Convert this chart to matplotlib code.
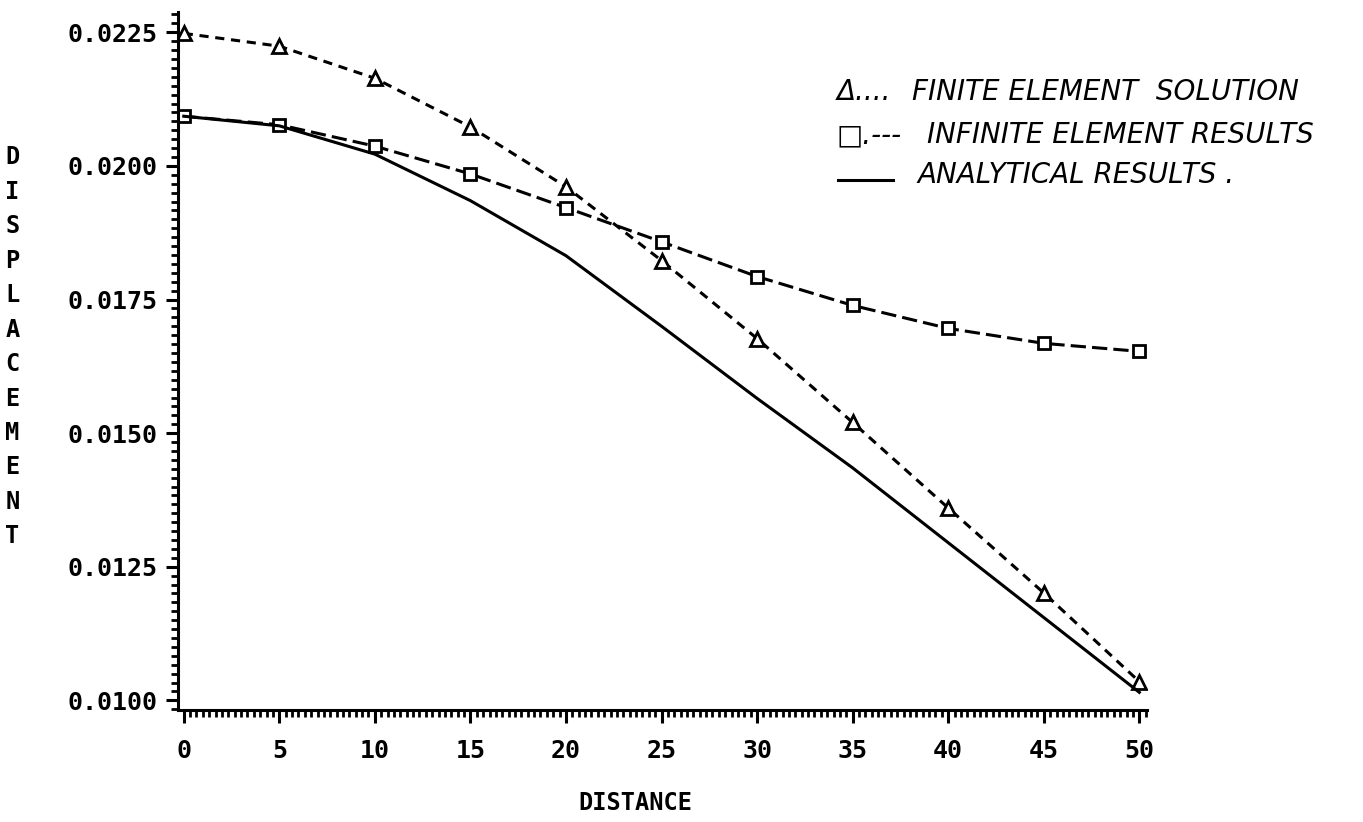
import matplotlib
matplotlib.use("Agg")
import matplotlib.pyplot as plt
from matplotlib.lines import Line2D
from matplotlib.ticker import AutoMinorLocator, FormatStrFormatter

# --- Werte ---
distance = [0, 5, 10, 15, 20, 25, 30, 35, 40, 45, 50]
finite_element = [0.02248, 0.02224, 0.02164, 0.02073, 0.01961, 0.01823,
                  0.01677, 0.01520, 0.01360, 0.01201, 0.01035]
infinite_element = [0.02093, 0.02077, 0.02037, 0.01985, 0.01922, 0.01858,
                    0.01793, 0.01739, 0.01696, 0.01668, 0.01653]
analytical = [0.02093, 0.02075, 0.02022, 0.01935, 0.01832, 0.01700,
              0.01565, 0.01435, 0.01295, 0.01155, 0.01015]

x_ticks = [0, 5, 10, 15, 20, 25, 30, 35, 40, 45, 50]
y_ticks = [0.0100, 0.0125, 0.0150, 0.0175, 0.0200, 0.0225]

legend_labels = ["FINITE ELEMENT  SOLUTION",
                 "INFINITE ELEMENT RESULTS",
                 "ANALYTICAL RESULTS ."]

mono = "DejaVu Sans Mono"

fig = plt.figure(figsize=(13.63, 8.22), dpi=100)
ax = fig.add_axes([0.1306, 0.1363, 0.7109, 0.8491])

ax.plot(distance, finite_element, color="black", lw=2.2,
        linestyle=(0, (3.0, 2.2)), marker="^", markersize=10,
        markerfacecolor="white", markeredgecolor="black", markeredgewidth=2)
ax.plot(distance, infinite_element, color="black", lw=2.2,
        linestyle=(0, (5.0, 2.0)), marker="s", markersize=9,
        markerfacecolor="white", markeredgecolor="black", markeredgewidth=2)
ax.plot(distance, analytical, color="black", lw=2.2, linestyle="-")

ax.set_xlim(-0.3, 50.4)
ax.set_ylim(0.00982, 0.02288)

ax.spines["top"].set_visible(False)
ax.spines["right"].set_visible(False)
for side in ("left", "bottom"):
    ax.spines[side].set_linewidth(2.2)

ax.set_xticks(x_ticks)
ax.set_yticks(y_ticks)
ax.xaxis.set_minor_locator(AutoMinorLocator(15))
ax.yaxis.set_minor_locator(AutoMinorLocator(15))
ax.yaxis.set_major_formatter(FormatStrFormatter("%.4f"))

ax.tick_params(which="major", direction="out", length=9, width=2.2,
               pad=6, labelsize=18)
ax.tick_params(which="minor", direction="out", length=5, width=2)
ax.tick_params(axis="x", which="major", pad=12)
for lab in ax.get_xticklabels() + ax.get_yticklabels():
    lab.set_fontfamily(mono)
    lab.set_fontweight("bold")

# Achsenbeschriftungen
fig.text(0.466, 0.008, "DISTANCE", family=mono, weight="bold", fontsize=17,
         ha="center", va="bottom")
fig.text(0.009, 0.578, "\n".join("DISPLACEMENT"), family=mono, weight="bold",
         fontsize=17, ha="center", va="center", linespacing=1.55)

# Legende oben rechts
leg_kw = dict(fontsize=20, style="italic", va="center", ha="left")
fig.text(0.614, 1 - 92 / 822, "\u0394....", **leg_kw)
fig.text(0.669, 1 - 92 / 822, legend_labels[0], **leg_kw)
fig.text(0.614, 1 - 135 / 822, "\u25a1.---", **leg_kw)
fig.text(0.680, 1 - 135 / 822, legend_labels[1], **leg_kw)
fig.add_artist(Line2D([0.615, 0.655], [1 - 180 / 822, 1 - 180 / 822],
                      transform=fig.transFigure, color="black", lw=2.2))
fig.text(0.673, 1 - 175 / 822, legend_labels[2], **leg_kw)

fig.savefig("out.png", dpi=100)
